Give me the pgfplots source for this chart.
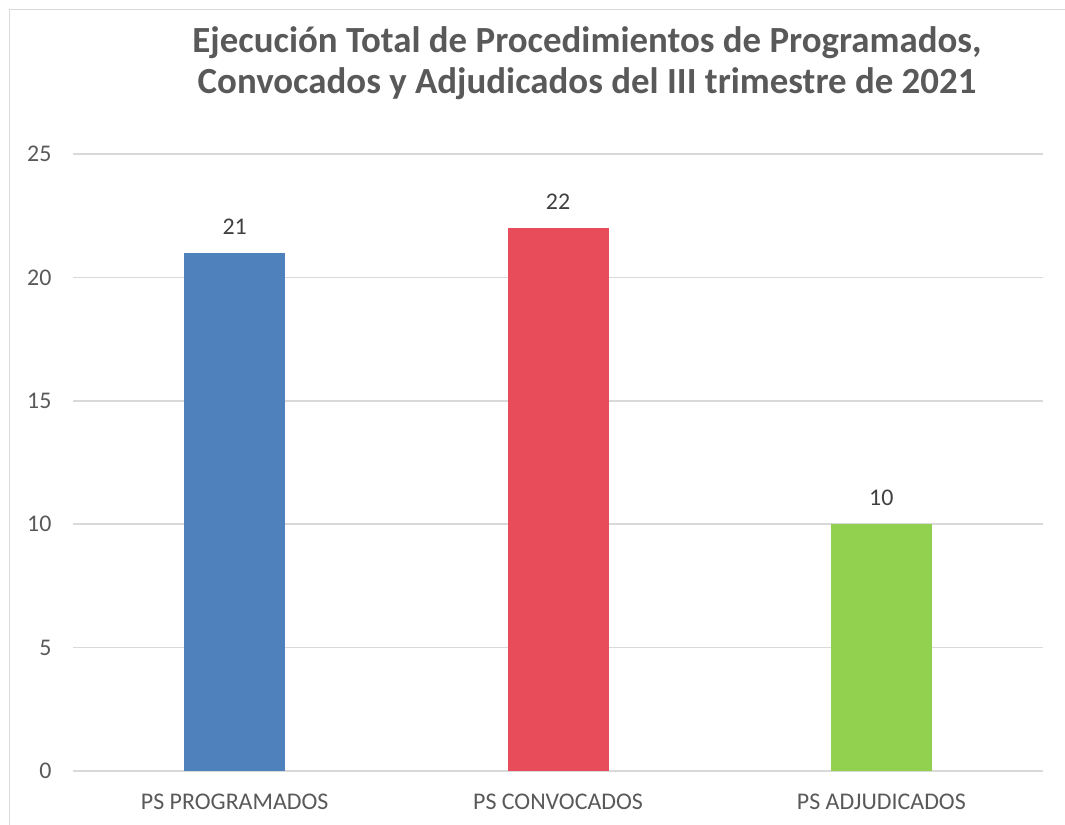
\documentclass[border=0pt]{standalone}
\usepackage{pgfplots}
\pgfplotsset{compat=1.18}
\usepackage{fontspec}
\setmainfont{Carlito}
\definecolor{gridc}{HTML}{D9D9D9}
\definecolor{txt}{HTML}{595959}
\definecolor{val}{HTML}{404040}
\definecolor{cblue}{HTML}{4F81BD}
\definecolor{cred}{HTML}{E84C5B}
\definecolor{cgreen}{HTML}{92D050}
\begin{document}
\begin{tikzpicture}[x=1bp,y=1bp]
\path[use as bounding box] (0,0) rectangle (1065,825);
\draw[gridc, line width=1.5bp] (9.5,0) -- (9.5,815.5) -- (1065,815.5);
\begin{axis}[
  at={(73bp,54bp)}, anchor=south west,
  scale only axis, width=970bp, height=617bp,
  xmin=-0.5, xmax=2.5, ymin=0, ymax=25,
  ytick={0,5,...,25}, xtick={0,1,2},
  xticklabels={PS PROGRAMADOS, PS CONVOCADOS, PS ADJUDICADOS},
  major tick length=0pt,
  axis line style={draw=none},
  ymajorgrids, grid style={gridc, line width=1.5bp},
  /pgf/number format/assume math mode=true,
  ticklabel style={font=\fontsize{24}{28}\selectfont, text=txt},
  yticklabel style={anchor=east, xshift=-18bp},
  xticklabel style={anchor=base, yshift=-39bp},
  ybar, bar width=101bp, bar shift=0pt,
  nodes near coords,
  nodes near coords align={center},
  every node near coord/.append style={font=\fontsize{24}{28}\selectfont, text=val, yshift=26bp},
  clip=false,
]
\addplot[fill=cblue, draw=none] coordinates {(0,21)};
\addplot[fill=cred, draw=none] coordinates {(1,22)};
\addplot[fill=cgreen, draw=none] coordinates {(2,10)};
\end{axis}
\node[font=\bfseries\fontsize{37}{42}\selectfont, text=txt, align=center, anchor=base] at (587,731) {Ejecución Total de Procedimientos de Programados,\\Convocados y Adjudicados del III trimestre de 2021};
\end{tikzpicture}
\end{document}
